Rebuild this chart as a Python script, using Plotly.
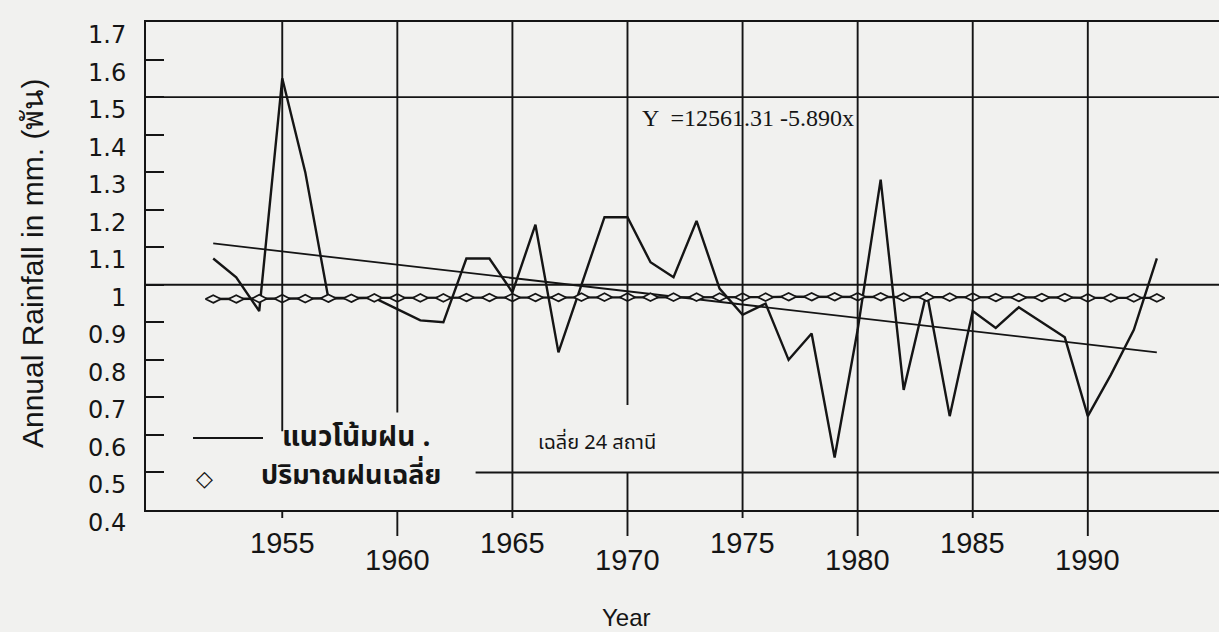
import plotly.graph_objects as go

# ---------------- data ----------------
years = [1952, 1953, 1954, 1955, 1956, 1957, 1958, 1959, 1960, 1961,
         1962, 1963, 1964, 1965, 1966, 1967, 1968, 1969, 1970, 1971,
         1972, 1973, 1974, 1975, 1976, 1977, 1978, 1979, 1980, 1981,
         1982, 1983, 1984, 1985, 1986, 1987, 1988, 1989, 1990, 1991,
         1992, 1993]

# annual rainfall, thousands of mm
rainfall = [1.07, 1.02, 0.93, 1.55, 1.30, 0.965, 0.965, 0.965, 0.935, 0.905,
            0.90, 1.07, 1.07, 0.98, 1.16, 0.82, 1.00, 1.18, 1.18, 1.06,
            1.02, 1.17, 0.99, 0.92, 0.95, 0.80, 0.87, 0.54, 0.88, 1.28,
            0.72, 0.98, 0.65, 0.93, 0.885, 0.94, 0.90, 0.86, 0.65, 0.76,
            0.88, 1.07]

# average rainfall (diamond series)
mean_rain = [0.962, 0.962, 0.963, 0.963, 0.963, 0.964, 0.964, 0.965, 0.965, 0.965,
             0.965, 0.966, 0.966, 0.966, 0.966, 0.966, 0.967, 0.967, 0.967, 0.967,
             0.967, 0.967, 0.967, 0.967, 0.967, 0.968, 0.968, 0.968, 0.968, 0.968,
             0.967, 0.967, 0.967, 0.967, 0.966, 0.966, 0.966, 0.966, 0.965, 0.965,
             0.965, 0.965]

# trend line end points as drawn
trend_years = [1952, 1993]
trend_values = [1.11, 0.82]

x_tick_years = [1955, 1960, 1965, 1970, 1975, 1980, 1985, 1990]
x_tick_labels = ["1955", "1960", "1965", "1970", "1975", "1980", "1985", "1990"]
y_tick_values = [0.4, 0.5, 0.6, 0.7, 0.8, 0.9, 1.0, 1.1, 1.2, 1.3, 1.4, 1.5, 1.6, 1.7]
y_tick_labels = ["0.4", "0.5", "0.6", "0.7", "0.8", "0.9", "1", "1.1", "1.2", "1.3",
                 "1.4", "1.5", "1.6", "1.7"]

equation_text = "Y  =12561.31 -5.890x"
stations_text = "เฉลี่ย 24 สถานี"
legend_line_text = "แนวโน้มฝน ."
legend_mark_text = "ปริมาณฝนเฉลี่ย"
y_title = "Annual Rainfall in mm. (พัน)"
x_title = "Year"

# ---------------- style ----------------
INK = "#151515"
BG = "#f1f1ef"
SANS = "Liberation Sans, Arial, sans-serif"
WIDE = "DejaVu Sans, sans-serif"
SERIF = "Liberation Serif, Times New Roman, serif"
THAI = "Noto Sans Thai, Loma, Garuda, Norasi, Tlwg Typo, Noto Sans, sans-serif"

X_RANGE = [1949.08, 1995.7]
Y_RANGE = [0.4, 1.7]

fig = go.Figure()

fig.add_trace(go.Scatter(x=years, y=rainfall, mode="lines",
                         line=dict(color=INK, width=2.4), hoverinfo="skip"))
fig.add_trace(go.Scatter(x=trend_years, y=trend_values, mode="lines",
                         line=dict(color=INK, width=1.8), hoverinfo="skip"))
fig.add_trace(go.Scatter(x=years, y=mean_rain, mode="lines+markers",
                         line=dict(color=INK, width=2.4),
                         marker=dict(symbol="diamond-wide", size=11, color=BG,
                                     line=dict(color=INK, width=1.7)),
                         hoverinfo="skip"))

shapes = []
# horizontal grid lines
for v in [1.5, 1.0]:
    shapes.append(dict(type="line", xref="paper", x0=0, x1=1, yref="y", y0=v, y1=v,
                       line=dict(color=INK, width=1.9)))
shapes.append(dict(type="line", xref="x", x0=1963.4, x1=X_RANGE[1], yref="y", y0=0.5, y1=0.5,
                   line=dict(color=INK, width=1.9)))

# vertical grid segments (broken around the in-plot text)
grid_segments = {1955: [(1.7, 0.61)], 1960: [(1.7, 0.66)], 1965: [(1.7, 0.4)],
                 1970: [(1.7, 0.68), (0.5, 0.4)], 1975: [(1.7, 0.4)], 1980: [(1.7, 0.4)],
                 1985: [(1.7, 0.4)], 1990: [(1.7, 0.4)]}
for yr in x_tick_years:
    for top, bot in grid_segments[yr]:
        shapes.append(dict(type="line", xref="x", x0=yr, x1=yr, yref="y", y0=bot, y1=top,
                           line=dict(color=INK, width=1.9)))

# alternating outside tick marks on the x axis
for i, yr in enumerate(x_tick_years):
    ln = 8 if i % 2 == 0 else 26
    shapes.append(dict(type="line", xref="x", x0=yr, x1=yr, yref="paper",
                       y0=0, y1=-ln / 488.0, line=dict(color=INK, width=1.9)))

# legend line sample
shapes.append(dict(type="line", xref="paper", x0=(193 - 146) / 1073.0, x1=(263 - 146) / 1073.0,
                   yref="paper", y0=(510 - 438) / 488.0, y1=(510 - 438) / 488.0,
                   line=dict(color=INK, width=1.9)))

ann = []
for v, lab in zip(y_tick_values, y_tick_labels):
    ann.append(dict(x=0, xref="paper", xanchor="right", xshift=-18, y=v, yref="y",
                    yanchor="middle", yshift=-13, text=lab, showarrow=False,
                    font=dict(family=WIDE, size=24, color=INK)))
for i, (yr, lab) in enumerate(zip(x_tick_years, x_tick_labels)):
    off = -33 if i % 2 == 0 else -50
    ann.append(dict(x=yr, xref="x", xanchor="center", y=0, yref="paper", yanchor="middle",
                    yshift=off, text=lab, showarrow=False,
                    font=dict(family=SANS, size=29, color=INK)))

ann.append(dict(x=(626 - 146) / 1073.0, xref="paper", y=0, yref="paper", yanchor="middle",
                yshift=-107, text=x_title, showarrow=False,
                font=dict(family=SANS, size=24, color=INK)))
ann.append(dict(x=0, xref="paper", xanchor="center", xshift=-114, y=0.504, yref="paper",
                yanchor="middle", textangle=-90, text=y_title, showarrow=False,
                font=dict(family=SANS, size=30, color=INK)))
ann.append(dict(x=(640 - 146) / 1073.0, xref="paper", xanchor="left", y=(510 - 118) / 488.0,
                yref="paper", yanchor="middle", text=equation_text, showarrow=False,
                font=dict(family=SERIF, size=24, color=INK)))
ann.append(dict(x=(536 - 146) / 1073.0, xref="paper", xanchor="left", y=(510 - 443) / 488.0,
                yref="paper", yanchor="middle", text=stations_text, showarrow=False,
                font=dict(family=THAI, size=20, color=INK)))
ann.append(dict(x=(280 - 146) / 1073.0, xref="paper", xanchor="left", y=(510 - 437) / 488.0,
                yref="paper", yanchor="middle", text="<b>" + legend_line_text + "</b>",
                showarrow=False, font=dict(family=THAI, size=28, color=INK)))
ann.append(dict(x=(204 - 146) / 1073.0, xref="paper", xanchor="center", y=(510 - 478) / 488.0,
                yref="paper", yanchor="middle", text="◇", showarrow=False,
                font=dict(family=WIDE, size=22, color=INK)))
ann.append(dict(x=(259 - 146) / 1073.0, xref="paper", xanchor="left", y=(510 - 475) / 488.0,
                yref="paper", yanchor="middle", text="<b>" + legend_mark_text + "</b>",
                showarrow=False, font=dict(family=THAI, size=27, color=INK)))

fig.update_layout(
    width=1219, height=632,
    margin=dict(l=146, r=0, t=22, b=122, pad=0),
    paper_bgcolor=BG, plot_bgcolor=BG,
    showlegend=False,
    xaxis=dict(range=X_RANGE, showgrid=False, zeroline=False, showline=True,
               linecolor=INK, linewidth=2, mirror=True, ticks="", showticklabels=False),
    yaxis=dict(range=Y_RANGE, tickvals=y_tick_values, ticks="inside", ticklen=18,
               tickwidth=2, tickcolor=INK, showline=True, linecolor=INK, linewidth=2,
               showgrid=False, zeroline=False, showticklabels=False),
    shapes=shapes,
    annotations=ann,
)

fig.write_html("out.html",
               config={"displayModeBar": False},
               post_script="document.body.style.margin='0px';"
                           "document.body.style.overflow='hidden';"
                           "document.body.style.background='" + BG + "';")
